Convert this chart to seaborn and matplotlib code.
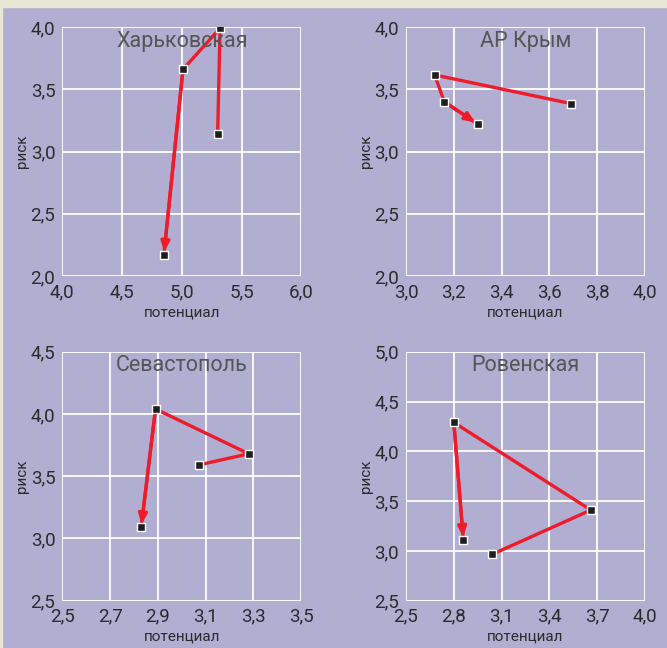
import matplotlib
matplotlib.use('Agg')
import matplotlib.pyplot as plt
from matplotlib.patches import Rectangle
import pandas as pd
import seaborn as sns

# region names (panel titles)
regions = ['Харьковская', 'АР Крым', 'Севастополь', 'Ровенская']

# path of each region: potential (x) and risk (y), in time order
kh_x = [5.30, 5.32, 5.01, 4.85]
kh_y = [3.14, 3.99, 3.66, 2.17]
krym_x = [3.69, 3.12, 3.16, 3.30]
krym_y = [3.385, 3.615, 3.40, 3.22]
sev_x = [3.07, 3.28, 2.89, 2.83]
sev_y = [3.59, 3.68, 4.04, 3.09]
rov_x = [3.04, 3.66, 2.80, 2.86]
rov_y = [2.965, 3.41, 4.29, 3.11]

# axis ticks
kh_xticks = [4.0, 4.5, 5.0, 5.5, 6.0]
kh_yticks = [2.0, 2.5, 3.0, 3.5, 4.0]
krym_xticks = [3.0, 3.2, 3.4, 3.6, 3.8, 4.0]
krym_yticks = [2.0, 2.5, 3.0, 3.5, 4.0]
sev_xticks = [2.5, 2.7, 2.9, 3.1, 3.3, 3.5]
sev_yticks = [2.5, 3.0, 3.5, 4.0, 4.5]
rov_xticks = [2.5, 2.8, 3.1, 3.4, 3.7, 4.0]
rov_yticks = [2.5, 3.0, 3.5, 4.0, 4.5, 5.0]

xlabel = 'потенциал'
ylabel = 'риск'

BG = '#b1aed1'
BEIGE = '#e8e6d5'
RED = '#ee1c2a'
TXT = '#2b2b2b'

sns.set_style('whitegrid', {'axes.facecolor': BG, 'grid.color': 'white',
                            'axes.edgecolor': BG})
plt.rcParams['font.family'] = ['Roboto', 'DejaVu Sans']

fig = plt.figure(figsize=(6.67, 6.48), dpi=100, facecolor=BG)
W, H = 667, 648
fig.patches.append(Rectangle((0, 1 - 7 / H), 1, 7 / H, transform=fig.transFigure,
                             color=BEIGE, zorder=-1))
fig.patches.append(Rectangle((0, 0), 2 / W, 1, transform=fig.transFigure,
                             color=BEIGE, zorder=-1))

panels = [
    (regions[0], kh_x, kh_y, kh_xticks, kh_yticks, (62.3, 27)),
    (regions[1], krym_x, krym_y, krym_xticks, krym_yticks, (406, 27)),
    (regions[2], sev_x, sev_y, sev_xticks, sev_yticks, (62.3, 351.7)),
    (regions[3], rov_x, rov_y, rov_xticks, rov_yticks, (406, 351.7)),
]
aw, ah = 239, 249

def fmt(v):
    return f'{v:.1f}'.replace('.', ',')

for name, xs, ys, xt, yt, (px, py) in panels:
    ax = fig.add_axes([px / W, 1 - (py + ah) / H, aw / W, ah / H])
    df = pd.DataFrame({'x': xs, 'y': ys})
    sns.lineplot(data=df, x='x', y='y', sort=False, color=RED, lw=2.4, ax=ax,
                 zorder=3)
    ax.annotate('', xy=(xs[-1], ys[-1]), xytext=(xs[-2], ys[-2]),
                arrowprops=dict(arrowstyle='-|>,head_length=0.6,head_width=0.25',
                                color=RED, lw=2.4, shrinkA=0, shrinkB=2),
                zorder=4)
    ax.scatter(xs, ys, marker='s', s=34, color='#1e1e1e', edgecolors='white',
               linewidths=1.0, zorder=5)
    ax.set_xlim(xt[0], xt[-1])
    ax.set_ylim(yt[0], yt[-1])
    ax.set_xticks(xt)
    ax.set_yticks(yt)
    ax.set_xticklabels([fmt(v) for v in xt])
    ax.set_yticklabels([fmt(v) for v in yt])
    ax.grid(True, color='white', lw=1.3)
    ax.tick_params(axis='both', labelsize=13.5, colors='white', labelcolor=TXT,
                   length=4, width=1.3, pad=1)
    ax.tick_params(axis='x', length=0, pad=5)
    for s in ax.spines.values():
        s.set_visible(False)
    ax.set_xlabel(xlabel, fontsize=11, color=TXT, labelpad=3)
    ax.set_ylabel(ylabel, fontsize=11, color=TXT, labelpad=1)
    ax.text(0.5, 0.985, name, transform=ax.transAxes, ha='center', va='top',
            fontsize=15.5, color='#555555', zorder=6)

fig.savefig('out.png', dpi=100, facecolor=BG)
